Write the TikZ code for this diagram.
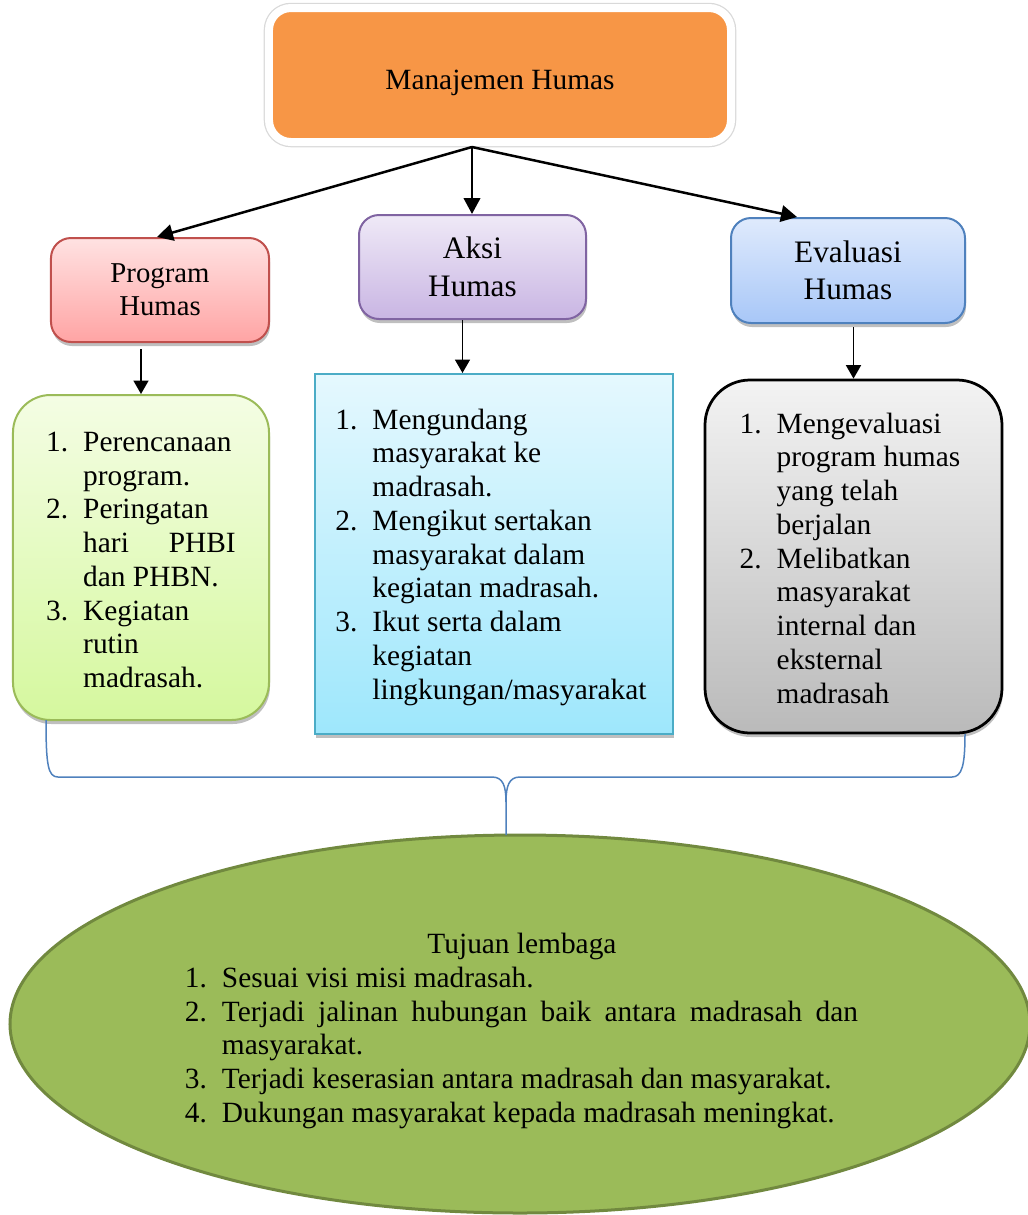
\documentclass[tikz,border=0pt]{standalone}
\usepackage{fontspec}
\setmainfont{Liberation Serif}
\usetikzlibrary{shapes.geometric, arrows.meta, shadows}
\definecolor{headfill}{HTML}{F79646}
\definecolor{progtop}{HTML}{FFE2E2}
\definecolor{progbot}{HTML}{FFA4A4}
\definecolor{progline}{HTML}{C0504D}
\definecolor{aksitop}{HTML}{EFE9F7}
\definecolor{aksibot}{HTML}{C9B5E3}
\definecolor{aksiline}{HTML}{8064A2}
\definecolor{evaltop}{HTML}{DFEAFC}
\definecolor{evalbot}{HTML}{A8C7F8}
\definecolor{evalline}{HTML}{4F81BD}
\definecolor{greentop}{HTML}{F4FDE4}
\definecolor{greenbot}{HTML}{D5F89E}
\definecolor{greenline}{HTML}{9BBB59}
\definecolor{cyantop}{HTML}{E5F8FE}
\definecolor{cyanbot}{HTML}{9EE7FC}
\definecolor{cyanline}{HTML}{4BACC6}
\definecolor{graytop}{HTML}{F3F3F3}
\definecolor{graybot}{HTML}{BABABA}
\definecolor{goalfill}{HTML}{9BBB59}
\definecolor{goalline}{HTML}{71893F}
\definecolor{braceblue}{HTML}{4F81BD}
\newcommand{\nm}[1]{\makebox[14.8pt][l]{#1}}
\newcommand{\ind}{\hspace*{14.8pt}}
\tikzset{
    softshadow/.style={drop shadow={shadow xshift=0.4pt, shadow yshift=-1.6pt, opacity=0.25, fill=black}},
    headbox/.style={rectangle, rounded corners=8.8pt, draw=white, line width=3.2pt, fill=headfill, minimum width=184.8pt, minimum height=53.6pt, text height=14.1pt, text depth=2.4pt, font=\fontsize{11.75}{14}\selectfont, softshadow, preaction={draw=black!15, line width=4.2pt}},
    subbox/.style={rectangle, rounded corners=8pt, line width=0.8pt, align=center, minimum height=41.6pt, inner sep=0pt, softshadow},
    listbox/.style={rectangle, line width=0.8pt, inner sep=0pt, softshadow},
    listtext/.style={align=left, inner sep=0pt, font=\fontsize{11.75}{13.5}\selectfont},
    goal/.style={ellipse, draw=goalline, line width=1.2pt, fill=goalfill, inner sep=0pt, minimum width=408pt, minimum height=151.2pt},
    arrow/.style={-{Triangle[length=6.4pt, width=6.6pt]}, line width=1pt},
    thinarrow/.style={-{Triangle[length=5.4pt, width=6pt]}, line width=0.7pt},
    bracket/.style={draw=braceblue, line width=0.6pt}
}

\begin{document}
\begin{tikzpicture}[x=0.4pt, y=-0.4pt]
    \useasboundingbox (0,0) rectangle (1028,1215);
    % Top level
    \node[headbox] (humas) at (500,75) {Manajemen Humas};
    \coordinate (hub) at (472,147);

    % Three parts
    \node[subbox, top color=progtop, bottom color=progbot, draw=progline, minimum width=87.2pt, font=\fontsize{11.5}{13.2}\selectfont] (program) at (160,290) {Program\\Humas};
    \node[subbox, top color=aksitop, bottom color=aksibot, draw=aksiline, minimum width=90.8pt, font=\fontsize{12.5}{15}\selectfont] (aksi) at (472.5,267) {Aksi\\Humas};
    \node[subbox, top color=evaltop, bottom color=evalbot, draw=evalline, minimum width=93.6pt, minimum height=42pt, font=\fontsize{12.5}{15}\selectfont] (evaluasi) at (848,270.5) {Evaluasi\\Humas};

    % Lists
    \node[listbox, rounded corners=15pt, top color=greentop, bottom color=greenbot, draw=greenline, minimum width=102.4pt, minimum height=130pt] (rencana) at (141,557.5) {};
    \node[listtext] (rencanatext) at (141,560)
    {\nm{1.}Perencanaan\\ \ind program.\\ \nm{2.}Peringatan\\ \ind\makebox[61pt][s]{hari\hfill PHBI}\\ \ind dan PHBN.\\ \nm{3.}Kegiatan\\ \ind rutin\\ \ind madrasah.};
    \node[listbox, top color=cyantop, bottom color=cyanbot, draw=cyanline, minimum width=143.2pt, minimum height=144pt] (kegiatan) at (494,554) {};
    \node[listtext] (kegiatantext) at (491,557)
    {\nm{1.}Mengundang\\ \ind masyarakat ke\\ \ind madrasah.\\ \nm{2.}Mengikut sertakan\\ \ind masyarakat dalam\\ \ind kegiatan madrasah.\\ \nm{3.}Ikut serta dalam\\ \ind kegiatan\\ \ind lingkungan/masyarakat};
    \node[listbox, rounded corners=18pt, top color=graytop, bottom color=graybot, draw=black, line width=1.1pt, minimum width=118.8pt, minimum height=141.2pt] (nilai) at (853.5,556.5) {};
    \node[listtext] (nilaitext) at (850,558)
    {\nm{1.}Mengevaluasi\\ \ind program humas\\ \ind yang telah\\ \ind berjalan\\ \nm{2.}Melibatkan\\ \ind masyarakat\\ \ind internal dan\\ \ind eksternal\\ \ind madrasah};

    % Goal
    \node[goal] (tujuan) at (520,1024) {};
    \node[listtext] (tujuantext) at (522,1031)
    {\makebox[269.6pt]{Tujuan lembaga}\\ \nm{1.}Sesuai visi misi madrasah.\\ \nm{2.}\makebox[254.4pt][s]{Terjadi jalinan hubungan baik antara madrasah dan}\\ \ind masyarakat.\\ \nm{3.}Terjadi keserasian antara madrasah dan masyarakat.\\ \nm{4.}Dukungan masyarakat kepada madrasah meningkat.};

    % Arrows
    \draw[line width=1pt] (humas.south -| hub) -- (hub);
    \draw[arrow] (hub) -- ([xshift=-1.2pt]program.north);
    \draw[arrow] (hub) -- (aksi.north -| hub);
    \draw[arrow] (hub) -- ([xshift=-20.4pt]evaluasi.north);
    \draw[thinarrow] ([yshift=-2.4pt]program.south -| rencana.north) -- (rencana.north);
    \draw[thinarrow] ([xshift=-4pt]aksi.south) -- ([xshift=-4pt]aksi.south |- kegiatan.north);
    \draw[thinarrow] ([yshift=-1.2pt]evaluasi.south -| nilai.north) -- (nilai.north);

    % Bracket to goal
    \coordinate (bl) at (46,720);
    \coordinate (br) at (965,734);
    \coordinate (bt) at (506,835);
    \draw[bracket] (bl) .. controls (46,765) and (48,777) .. (58,777) -- (492,777) .. controls (503,777) and (506,786) .. (506,802) -- (bt);
    \draw[bracket] (br) .. controls (965,765) and (962,777) .. (952,777) -- (520,777) .. controls (509,777) and (506,786) .. (506,802);
\end{tikzpicture}
\end{document}
